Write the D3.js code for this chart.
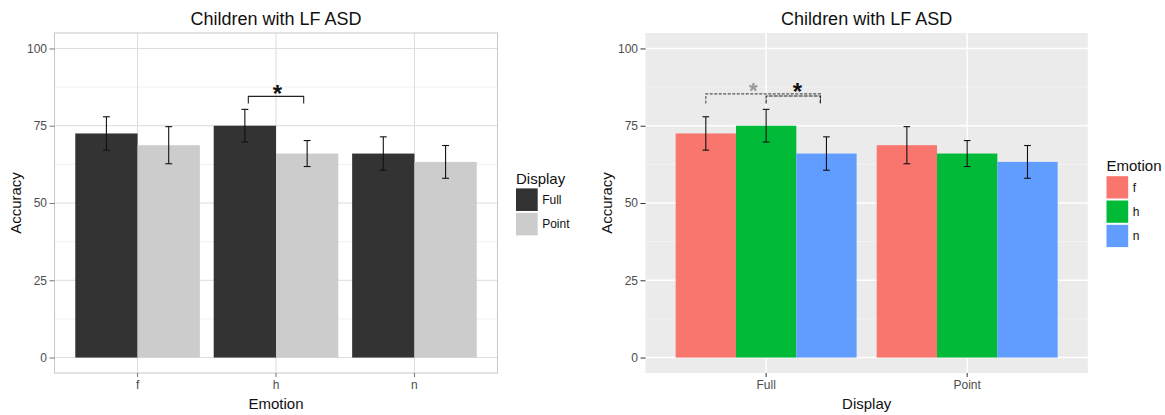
<!DOCTYPE html>
<html>
<head>
<meta charset="utf-8">
<script src="https://cdn.jsdelivr.net/npm/d3@7/dist/d3.min.js"></script>
<style>
  html, body { margin: 0; padding: 0; background: #fff; }
  svg { display: block; font-family: "Liberation Sans", Arial, sans-serif; }
</style>
</head>
<body>
<svg id="chart" width="1165" height="415"></svg>
<script>
// Accuracy (%) by emotion and display type, children with LF ASD
const emotions = ["f", "h", "n"];
const displays = ["Full", "Point"];
const fullMean  = [72.5, 75.0, 66.0];
const fullSE    = [5.4, 5.3, 5.4];
const pointMean = [68.7, 66.0, 63.3];
const pointSE   = [6.0, 4.2, 5.3];
const yTicks = [0, 25, 50, 75, 100];
const yMinor = [12.5, 37.5, 62.5, 87.5];

const titleText = "Children with LF ASD";
const displayColors = { Full: "#333333", Point: "#cccccc" };
const emotionColors = { f: "#F8766D", h: "#00BA38", n: "#619CFF" };

// significance annotations: group, from/to offsets (in category units), bracket level, tip level
const leftBrackets = [
  { group: "h", from: -0.2, to: 0.2, level: 84.5, tip: 82.2, color: "#222", dash: null }
];
const leftStars = [
  { group: "h", offset: 0.01, level: 86.8, color: "#111", size: 24 }
];
const rightBrackets = [
  { group: "Full", from: -0.3, to: 0.27, level: 85.3, tip: 82.2, color: "#555", dash: "3,1.5" },
  { group: "Full", from: 0.0, to: 0.27, level: 84.6, tip: 82.2, color: "#222", dash: "4,1" }
];
const rightStars = [
  { group: "Full", offset: -0.064, level: 87.8, color: "#9a9a9a", size: 22 },
  { group: "Full", offset: 0.156, level: 87.3, color: "#111", size: 24 }
];

// long-form records
const records = [];
emotions.forEach((e, i) => {
  records.push({ emotion: e, display: "Full", mean: fullMean[i], se: fullSE[i] });
  records.push({ emotion: e, display: "Point", mean: pointMean[i], se: pointSE[i] });
});

const svg = d3.select("#chart");
const panelTop = 33, panelBottom = 373;
const y = d3.scaleLinear().domain([-5, 105]).range([panelBottom, panelTop]);

function drawPanel(opts) {
  const { left, right, groups, subgroups, groupKey, subKey, colors, theme } = opts;
  const g = svg.append("g");
  const x = d3.scaleBand().domain(groups).range([left, right])
    .paddingInner(0.1).paddingOuter(0.15);
  const xs = d3.scaleBand().domain(subgroups).range([0, x.bandwidth()]).padding(0);
  const step = x.step();
  const centre = k => x(k) + x.bandwidth() / 2;

  // panel background
  g.append("rect")
    .attr("x", left).attr("y", panelTop)
    .attr("width", right - left).attr("height", panelBottom - panelTop)
    .attr("fill", theme === "light" ? "#ffffff" : "#ebebeb");

  const majorCol = theme === "light" ? "#dcdcdc" : "#ffffff";
  const minorCol = theme === "light" ? "#ececec" : "#f5f5f5";
  const majorW = theme === "light" ? 1 : 1.4;
  const minorW = 0.8;

  g.selectAll(".minor").data(yMinor).enter().append("line")
    .attr("x1", left).attr("x2", right)
    .attr("y1", d => y(d)).attr("y2", d => y(d))
    .attr("stroke", minorCol).attr("stroke-width", minorW);
  g.selectAll(".majory").data(yTicks).enter().append("line")
    .attr("x1", left).attr("x2", right)
    .attr("y1", d => y(d)).attr("y2", d => y(d))
    .attr("stroke", majorCol).attr("stroke-width", majorW);
  g.selectAll(".majorx").data(groups).enter().append("line")
    .attr("x1", d => centre(d)).attr("x2", d => centre(d))
    .attr("y1", panelTop).attr("y2", panelBottom)
    .attr("stroke", majorCol).attr("stroke-width", majorW);

  // bars
  const data = records.map(r => ({ grp: r[groupKey], sub: r[subKey], mean: r.mean, se: r.se }));
  g.selectAll(".bar").data(data).enter().append("rect")
    .attr("x", d => x(d.grp) + xs(d.sub))
    .attr("width", xs.bandwidth())
    .attr("y", d => y(d.mean))
    .attr("height", d => y(0) - y(d.mean))
    .attr("fill", d => colors[d.sub]);

  // error bars
  const capHalf = (0.1 / subgroups.length) * step / 2;
  const eb = g.selectAll(".eb").data(data).enter().append("g")
    .attr("stroke", "#111").attr("stroke-width", 1.1);
  const cx = d => x(d.grp) + xs(d.sub) + xs.bandwidth() / 2;
  eb.append("line").attr("x1", cx).attr("x2", cx)
    .attr("y1", d => y(d.mean - d.se)).attr("y2", d => y(d.mean + d.se));
  eb.append("line").attr("x1", d => cx(d) - capHalf).attr("x2", d => cx(d) + capHalf)
    .attr("y1", d => y(d.mean + d.se)).attr("y2", d => y(d.mean + d.se));
  eb.append("line").attr("x1", d => cx(d) - capHalf).attr("x2", d => cx(d) + capHalf)
    .attr("y1", d => y(d.mean - d.se)).attr("y2", d => y(d.mean - d.se));

  // panel border for the light theme
  if (theme === "light") {
    g.append("rect")
      .attr("x", left).attr("y", panelTop)
      .attr("width", right - left).attr("height", panelBottom - panelTop)
      .attr("fill", "none").attr("stroke", "#c8c8c8").attr("stroke-width", 1);
  }

  // axes
  const tickCol = theme === "light" ? "#777" : "#333";
  const yAxis = g.append("g").attr("transform", `translate(${left},0)`)
    .call(d3.axisLeft(y).tickValues(yTicks).tickSize(5).tickPadding(2.5));
  const xAxis = g.append("g").attr("transform", `translate(0,${panelBottom})`)
    .call(d3.axisBottom(x).tickSize(4).tickPadding(3));
  [yAxis, xAxis].forEach(a => {
    a.select(".domain").remove();
    a.selectAll(".tick line").attr("stroke", tickCol).attr("stroke-width", 1);
    a.selectAll(".tick text").attr("fill", "#4d4d4d")
      .style("font-size", "12px").style("font-family", "Liberation Sans, Arial, sans-serif");
  });

  return { g, x, step, centre };
}

function drawAnnotations(panel, brackets, stars) {
  const { g, step, centre } = panel;
  brackets.forEach(b => {
    const x1 = centre(b.group) + b.from * step;
    const x2 = centre(b.group) + b.to * step;
    const path = d3.path();
    path.moveTo(x1, y(b.tip));
    path.lineTo(x1, y(b.level));
    path.lineTo(x2, y(b.level));
    path.lineTo(x2, y(b.tip));
    g.append("path").attr("d", path.toString())
      .attr("fill", "none").attr("stroke", b.color).attr("stroke-width", 1.1)
      .attr("stroke-dasharray", b.dash);
  });
  stars.forEach(s => {
    g.append("text")
      .attr("x", centre(s.group) + s.offset * step)
      .attr("y", y(s.level) + s.size * 0.52)
      .attr("text-anchor", "middle")
      .attr("font-weight", "bold")
      .attr("font-size", s.size)
      .attr("fill", s.color)
      .text("*");
  });
}

function drawTexts(left, right, xTitle, accX) {
  const mid = (left + right) / 2;
  svg.append("text").attr("x", mid).attr("y", 25)
    .attr("text-anchor", "middle").attr("font-size", 18).attr("fill", "#111")
    .text(titleText);
  svg.append("text").attr("x", mid).attr("y", 409)
    .attr("text-anchor", "middle").attr("font-size", 15).attr("fill", "#111")
    .text(xTitle);
  svg.append("text")
    .attr("transform", `translate(${accX},${(panelTop + panelBottom) / 2}) rotate(-90)`)
    .attr("text-anchor", "middle").attr("font-size", 15).attr("fill", "#111")
    .text("Accuracy");
}

function drawLegend(x0, titleY, keysTop, keyStep, keyW, keyH, title, items, colors) {
  const lg = svg.append("g");
  lg.append("text").attr("x", x0).attr("y", titleY)
    .attr("font-size", 15).attr("fill", "#111").text(title);
  items.forEach((k, i) => {
    const ky = keysTop + i * keyStep;
    lg.append("rect").attr("x", x0).attr("y", ky)
      .attr("width", keyW).attr("height", keyH).attr("fill", colors[k]);
    lg.append("text").attr("x", x0 + keyW + 4.5).attr("y", ky + keyH / 2 + 4.3)
      .attr("font-size", 12).attr("fill", "#111").text(k);
  });
}

// left panel: bars by emotion, filled by display
const leftPanel = drawPanel({
  left: 54.5, right: 497.5, groups: emotions, subgroups: displays,
  groupKey: "emotion", subKey: "display", colors: displayColors, theme: "light"
});
drawAnnotations(leftPanel, leftBrackets, leftStars);
drawTexts(54.5, 497.5, "Emotion", 21);
drawLegend(516, 183.5, 188.4, 24.4, 21.7, 22.6, "Display", displays, displayColors);

// right panel: bars by display, filled by emotion
const rightPanel = drawPanel({
  left: 645.5, right: 1087.8, groups: displays, subgroups: emotions,
  groupKey: "display", subKey: "emotion", colors: emotionColors, theme: "gray"
});
drawAnnotations(rightPanel, rightBrackets, rightStars);
drawTexts(645.5, 1087.8, "Display", 611.5);
drawLegend(1106.5, 171.2, 176.2, 24.3, 21.7, 22.3, "Emotion", emotions, emotionColors);
</script>
</body>
</html>
